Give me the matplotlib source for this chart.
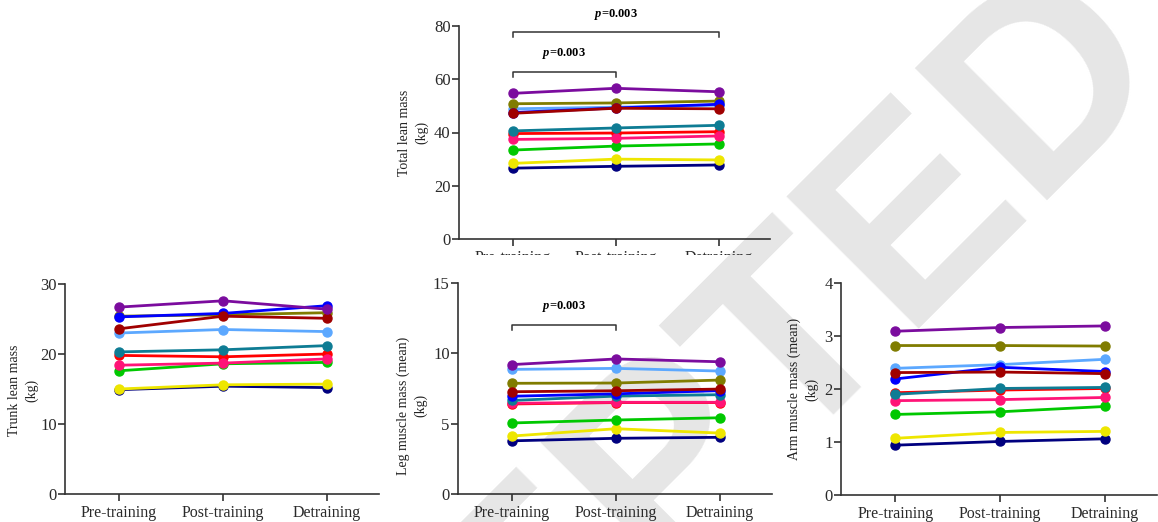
import matplotlib
matplotlib.use("Agg")
import matplotlib.pyplot as plt
from matplotlib.transforms import Bbox, TransformedBbox

plt.rcParams['font.family'] = ['Liberation Serif', 'DejaVu Serif']
plt.rcParams['mathtext.fontset'] = 'custom'
plt.rcParams['mathtext.it'] = 'Liberation Serif:italic:bold'
plt.rcParams['mathtext.rm'] = 'Liberation Serif:bold'

# ── DATA ─────────────────────────────────────────────────────
PHASES = ["Pre-training", "Post-training", "Detraining"]

# one colour per participant (same order in every panel, first = drawn on top)
COLORS = ["#7b0c9e", "#a00000", "#0000ff", "#807c00", "#5ca8ff", "#0e7c94",
          "#ff1477", "#ff0000", "#00c800", "#eee600", "#00007f"]

TOTAL_LEAN = [
    [54.7, 56.6, 55.3], [47.2, 49.1, 48.9], [47.5, 49.2, 50.6],
    [50.8, 51.1, 51.8], [48.9, 49.5, 50.3], [40.6, 41.7, 42.7],
    [37.4, 37.8, 38.7], [39.6, 39.8, 40.3], [33.4, 34.9, 35.7],
    [28.4, 30.0, 29.7], [26.6, 27.3, 27.8],
]
TRUNK_LEAN = [
    [26.7, 27.6, 26.4], [23.6, 25.4, 25.1], [25.3, 25.8, 26.9],
    [25.4, 25.6, 25.9], [23.0, 23.5, 23.2], [20.3, 20.6, 21.2],
    [18.4, 18.7, 19.3], [19.8, 19.6, 20.0], [17.6, 18.6, 18.8],
    [15.0, 15.6, 15.7], [14.9, 15.4, 15.2],
]
LEG_MUSCLE = [
    [9.20, 9.60, 9.40], [7.27, 7.34, 7.46], [6.95, 7.12, 7.35],
    [7.87, 7.89, 8.10], [8.86, 8.93, 8.74], [6.65, 6.96, 7.06],
    [6.45, 6.52, 6.52], [6.40, 6.50, 6.50], [5.05, 5.26, 5.42],
    [4.12, 4.64, 4.33], [3.78, 3.96, 4.03],
]
ARM_MUSCLE = [
    [3.09, 3.16, 3.19], [2.31, 2.32, 2.29], [2.19, 2.41, 2.33],
    [2.82, 2.82, 2.81], [2.39, 2.46, 2.56], [1.90, 2.01, 2.03],
    [1.78, 1.80, 1.84], [1.93, 1.98, 2.01], [1.52, 1.57, 1.67],
    [1.07, 1.18, 1.20], [0.94, 1.01, 1.06],
]

P_TEXT = "$p$=0.003"
AX_COLOR = "#333333"

# ── FIGURE ───────────────────────────────────────────────────
fig = plt.figure(figsize=(11.58, 5.22), dpi=100)

# watermark behind everything
fig.text(1172 / 1158, 1 - 69 / 522, "ACCEPTED", family="Liberation Sans",
         weight="bold", fontsize=196, color="#e6e6e6", rotation=45,
         rotation_mode="anchor", ha="right", va="baseline", zorder=-5)


def panel(rect, data, ymax, step, ylabel, label_x, label_y=0.5):
    ax = fig.add_axes(rect)
    ax.set_facecolor("none")
    x = range(len(PHASES))
    for vals, col in reversed(list(zip(data, COLORS))):
        ax.plot(x, vals, color=col, lw=2.0, marker="o", ms=6.5,
                solid_capstyle="round", clip_on=False)
    ax.set_xlim(-0.52, 2.5)
    ax.set_ylim(0, ymax)
    ax.set_yticks([i * step for i in range(int(round(ymax / step)) + 1)])
    ax.set_xticks(list(x))
    ax.set_xticklabels(PHASES)
    ax.spines["top"].set_visible(False)
    ax.spines["right"].set_visible(False)
    for s in ("left", "bottom"):
        ax.spines[s].set_color(AX_COLOR)
        ax.spines[s].set_linewidth(1.2)
    ax.tick_params(axis="both", direction="out", length=5, width=1.2,
                   color=AX_COLOR, labelcolor="#2a2a2a")
    ax.tick_params(axis="x", labelsize=11.5, pad=3)
    ax.tick_params(axis="y", labelsize=12, pad=1)
    ax.set_ylabel(ylabel, fontsize=10, linespacing=1.3, color="#222222")
    ax.yaxis.set_label_coords(label_x, label_y)
    return ax


def bracket(ax, x0, x1, y, drop, ytext):
    ax.plot([x0, x0, x1, x1], [y - drop, y, y, y - drop], color=AX_COLOR,
            lw=1.1, clip_on=False)
    ax.text((x0 + x1) / 2, ytext, P_TEXT, ha="center", va="center",
            fontsize=9, weight="bold", clip_on=False)


ax_total = panel([459 / 1158, 1 - 239 / 522, 311 / 1158, 213 / 522],
                 TOTAL_LEAN, 80, 20, "Total lean mass\n(kg)", -0.10)
bracket(ax_total, 0, 2, 77.7, 1.8, 84.5)
bracket(ax_total, 0, 1, 62.7, 1.9, 69.5)

# the top panel's category labels are cut off in the source figure
clip = TransformedBbox(Bbox([[0, 1 - 255 / 522], [1, 1]]), fig.transFigure)
for lbl in ax_total.get_xticklabels():
    lbl.set_clip_box(clip)
    lbl.set_clip_on(True)

panel([65 / 1158, 1 - 494 / 522, 314 / 1158, 210 / 522],
      TRUNK_LEAN, 30, 10, "Trunk lean mass\n(kg)", -0.086, 0.495)

ax_leg = panel([458 / 1158, 1 - 494 / 522, 314 / 1158, 211 / 522],
               LEG_MUSCLE, 15, 5, "Leg muscle mass (mean)\n(kg)", -0.099, 0.42)
bracket(ax_leg, 0, 1, 12.0, 0.35, 13.3)

panel([841 / 1158, 1 - 495 / 522, 316 / 1158, 212 / 522],
      ARM_MUSCLE, 4, 1, "Arm muscle mass (mean)\n(kg)", -0.073, 0.5)

fig.savefig("out.png", dpi=100)
